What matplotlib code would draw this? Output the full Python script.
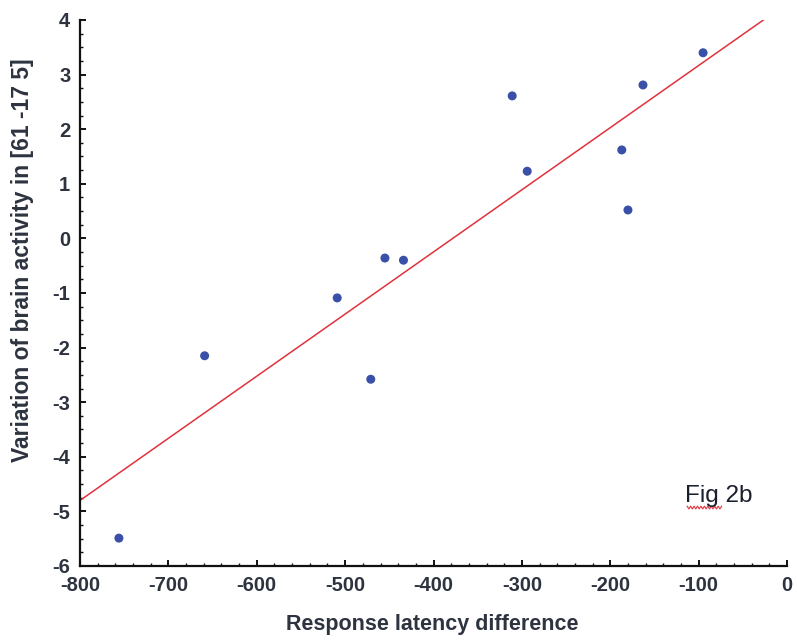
import numpy as np
import matplotlib.pyplot as plt
from matplotlib.ticker import MultipleLocator

# Measured points
latency = [-756, -659, -509, -471, -455, -434, -311, -294, -187, -180, -163, -95]
activity = [-5.49, -2.15, -1.09, -2.58, -0.36, -0.40, 2.61, 1.23, 1.62, 0.52, 2.81, 3.40]

# Regression line end points
fit_x = [-800, -25]
fit_y = [-4.80, 4.02]

plt.rcParams['font.family'] = ['Liberation Sans', 'DejaVu Sans']
plt.rcParams['axes.unicode_minus'] = False

fig = plt.figure(figsize=(7.97, 6.43), dpi=100)
ax = fig.add_axes([0.1004, 0.1198, 0.8871, 0.8491])

ax.plot(fit_x, fit_y, color='#e0323c', linewidth=1.1, zorder=2)
ax.scatter(latency, activity, s=42, color='#3a50a8', edgecolors='none', zorder=3)

ax.set_xlim(-800, 0)
ax.set_ylim(-6, 4)
ax.xaxis.set_major_locator(MultipleLocator(100))
ax.xaxis.set_minor_locator(MultipleLocator(20))
ax.yaxis.set_major_locator(MultipleLocator(1))
ax.yaxis.set_minor_locator(MultipleLocator(0.25))

for side in ('top', 'right'):
    ax.spines[side].set_visible(False)
for side in ('left', 'bottom'):
    ax.spines[side].set_linewidth(1.6)
    ax.spines[side].set_color('#111111')

ax.tick_params(which='major', direction='in', length=4.5, width=1.4, colors='#111111',
               labelsize=14.5, labelcolor='#2e3340', pad=7)
ax.tick_params(which='minor', direction='in', length=2.5, width=1.0, colors='#111111')
for lbl in ax.get_xticklabels() + ax.get_yticklabels():
    lbl.set_fontweight('bold')

ax.set_xlabel('Response latency difference', fontsize=15.5, fontweight='bold',
              color='#2e3340')
ax.set_ylabel('Variation of brain activity in [61 -17 5]', fontsize=16.5,
              fontweight='bold', color='#2e3340')
ax.xaxis.set_label_coords(0.498, -0.108)
ax.yaxis.set_label_coords(-0.081, 0.56)
ax.xaxis.label.set_va('center')
ax.yaxis.label.set_va('center')

# panel tag with a red squiggle under "Fig"
ax.text(-116, -4.72, 'Fig 2b', fontsize=17.5, color='#1a1f2e', va='center', ha='left')
sq_x = np.linspace(-113, -74, 21)
sq_y = -4.93 + 0.025 * np.where(np.arange(21) % 2 == 0, 1, -1)
ax.plot(sq_x, sq_y, color='#e0323c', linewidth=0.8)

fig.savefig('out.png', dpi=100)
